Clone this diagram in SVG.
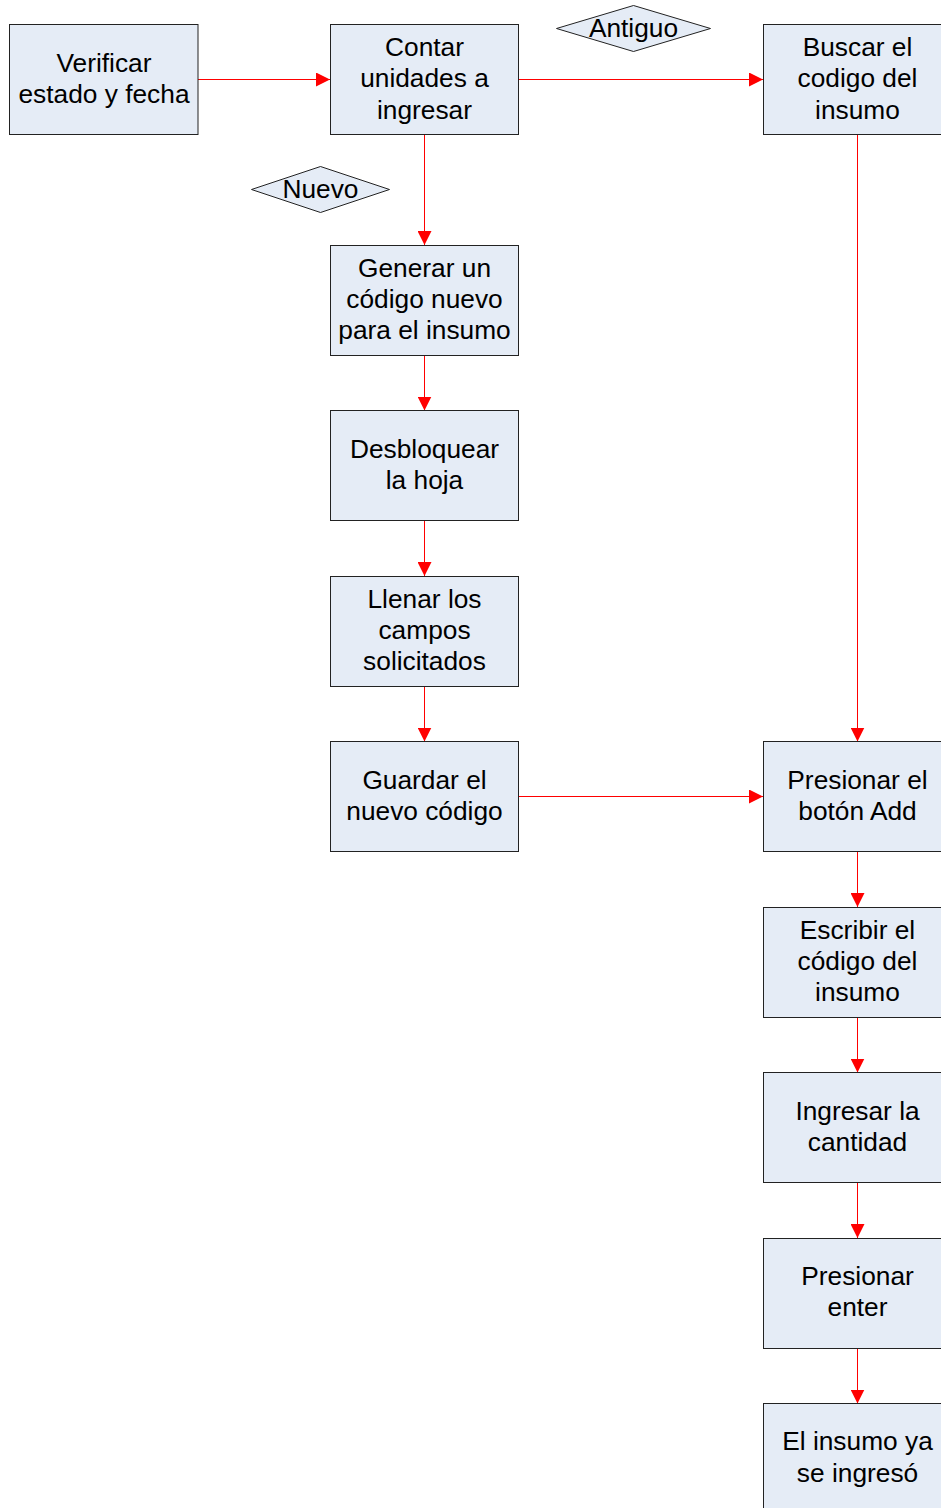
<svg xmlns="http://www.w3.org/2000/svg" width="941" height="1508" viewBox="0 0 941 1508">
<style>
.box{fill:#E5ECF6;stroke:#222;stroke-width:1}
.dia{fill:#E5ECF6;stroke:#222;stroke-width:1}
.t{font-family:"Liberation Sans",Arial,sans-serif;font-size:26.3px;fill:#000;text-anchor:middle}
.c{stroke:#FF0000;stroke-width:1;fill:none;marker-end:url(#ah)}
</style>
<defs>
<marker id="ah" markerWidth="14" markerHeight="14" refX="14" refY="7" orient="auto" markerUnits="userSpaceOnUse">
<path d="M0,0 L14,7 L0,14 Z" fill="#FF0000"/>
</marker>
</defs>
<rect width="941" height="1508" fill="#fff"/>
<g id="connectors">
<line class="c" x1="198" y1="79.5" x2="330" y2="79.5"/>
<line class="c" x1="518" y1="79.5" x2="763" y2="79.5"/>
<line class="c" x1="424.5" y1="134.5" x2="424.5" y2="245"/>
<line class="c" x1="424.5" y1="355" x2="424.5" y2="410.5"/>
<line class="c" x1="424.5" y1="520.5" x2="424.5" y2="576"/>
<line class="c" x1="424.5" y1="686" x2="424.5" y2="741.5"/>
<line class="c" x1="518" y1="796.5" x2="763" y2="796.5"/>
<line class="c" x1="857.5" y1="134.5" x2="857.5" y2="741.5"/>
<line class="c" x1="857.5" y1="851.5" x2="857.5" y2="907"/>
<line class="c" x1="857.5" y1="1017" x2="857.5" y2="1072.5"/>
<line class="c" x1="857.5" y1="1182.5" x2="857.5" y2="1238"/>
<line class="c" x1="857.5" y1="1348" x2="857.5" y2="1403.5"/>
</g>
<g id="n-verificar"><rect class="box" x="9.5" y="24.5" width="188.5" height="110"/><text class="t" x="104" y="72">Verificar</text><text class="t" x="104" y="103">estado y fecha</text></g>
<g id="n-contar"><rect class="box" x="330.5" y="24.5" width="188" height="110"/><text class="t" x="424.5" y="56">Contar</text><text class="t" x="424.5" y="87">unidades a</text><text class="t" x="424.5" y="119">ingresar</text></g>
<g id="n-antiguo"><polygon class="dia" points="556.5,28.5 633.5,5.5 710.5,28.5 633.5,51.5"/><text class="t" x="633.5" y="37">Antiguo</text></g>
<g id="n-nuevo"><polygon class="dia" points="251.5,189.5 320.5,166.5 389.5,189.5 320.5,212.5"/><text class="t" x="320.5" y="198">Nuevo</text></g>
<g id="n-buscar"><rect class="box" x="763.5" y="24.5" width="188" height="110"/><text class="t" x="857.5" y="56">Buscar el</text><text class="t" x="857.5" y="87">codigo del</text><text class="t" x="857.5" y="119">insumo</text></g>
<g id="n-generar"><rect class="box" x="330.5" y="245.5" width="188" height="110"/><text class="t" x="424.5" y="277">Generar un</text><text class="t" x="424.5" y="308">código nuevo</text><text class="t" x="424.5" y="339">para el insumo</text></g>
<g id="n-desbloquear"><rect class="box" x="330.5" y="410.5" width="188" height="110"/><text class="t" x="424.5" y="458">Desbloquear</text><text class="t" x="424.5" y="489">la hoja</text></g>
<g id="n-llenar"><rect class="box" x="330.5" y="576.5" width="188" height="110"/><text class="t" x="424.5" y="608">Llenar los</text><text class="t" x="424.5" y="639">campos</text><text class="t" x="424.5" y="670">solicitados</text></g>
<g id="n-guardar"><rect class="box" x="330.5" y="741.5" width="188" height="110"/><text class="t" x="424.5" y="789">Guardar el</text><text class="t" x="424.5" y="820">nuevo código</text></g>
<g id="n-presionar-add"><rect class="box" x="763.5" y="741.5" width="188" height="110"/><text class="t" x="857.5" y="789">Presionar el</text><text class="t" x="857.5" y="820">botón Add</text></g>
<g id="n-escribir"><rect class="box" x="763.5" y="907.5" width="188" height="110"/><text class="t" x="857.5" y="939">Escribir el</text><text class="t" x="857.5" y="970">código del</text><text class="t" x="857.5" y="1001">insumo</text></g>
<g id="n-ingresar"><rect class="box" x="763.5" y="1072.5" width="188" height="110"/><text class="t" x="857.5" y="1120">Ingresar la</text><text class="t" x="857.5" y="1151">cantidad</text></g>
<g id="n-enter"><rect class="box" x="763.5" y="1238.5" width="188" height="110"/><text class="t" x="857.5" y="1285">Presionar</text><text class="t" x="857.5" y="1316">enter</text></g>
<g id="n-final"><rect class="box" x="763.5" y="1403.5" width="188" height="110"/><text class="t" x="857.5" y="1450">El insumo ya</text><text class="t" x="857.5" y="1482">se ingresó</text></g>
</svg>
